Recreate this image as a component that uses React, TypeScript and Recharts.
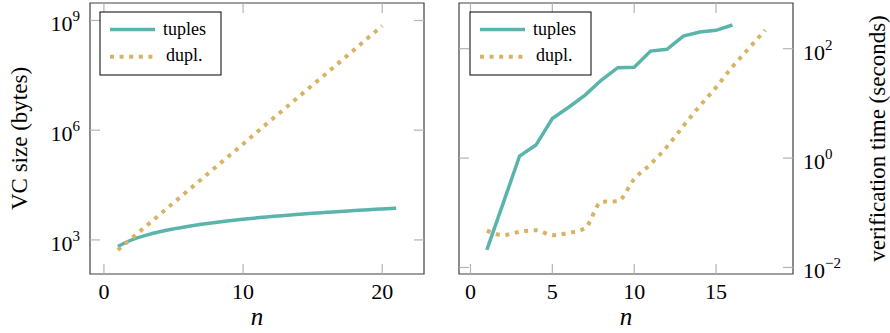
import { Label, Line, LineChart, ReferenceArea, XAxis, YAxis } from "recharts";

const FONT = '"Liberation Serif", "DejaVu Serif", serif';
const TEAL = "#5ab4ac";
const GOLD = "#d8b365";
const BOX = "#404040";
const TICK = "#b3b3b3";
const DOTS = "4 5.6";

// left panel: VC size (bytes)
const nSize = [1, 2, 3, 4, 5, 6, 7, 8, 9, 10, 11, 12, 13, 14, 15, 16, 17, 18, 19, 20, 21];
const tuplesSize = [
  660, 1000, 1330, 1670, 2000, 2340, 2670, 3000, 3340, 3670, 4010, 4340, 4680, 5010, 5350,
  5680, 6020, 6350, 6690, 7020, 7360,
];
const duplSize = [
  530, 1110, 2340, 4900, 10300, 21700, 45500, 95600, 2.0e5, 4.2e5, 8.9e5, 1.87e6, 3.9e6,
  8.2e6, 1.73e7, 3.6e7, 7.6e7, 1.6e8, 3.4e8, 7.1e8,
];
const sizeTicksX = [0, 10, 20];
const sizeTicksY = [1e3, 1e6, 1e9];

// right panel: verification time (seconds)
const nTime = [1, 2, 3, 4, 5, 6, 7, 8, 9, 10, 11, 12, 13, 14, 15, 16, 17, 18];
const tuplesTime = [
  0.021, 0.15, 1.09, 1.73, 5.3, 8.5, 14.2, 26.7, 44.9, 45.6, 90.6, 97.3, 170, 202, 217, 271,
];
const duplTime = [
  0.047, 0.039, 0.045, 0.048, 0.039, 0.043, 0.052, 0.159, 0.163, 0.413, 0.776, 1.61, 3.85,
  8.93, 19.6, 46.8, 101, 219,
];
const timeTicksX = [0, 5, 10, 15];
const timeTicksY = [1e-2, 1, 1e2];

const sizeData = nSize.map((n, i) => ({ n, tuples: tuplesSize[i], dupl: duplSize[i] }));
const timeData = nTime.map((n, i) => ({ n, tuples: tuplesTime[i], dupl: duplTime[i] }));

const PLOT_W = 334;
const PLOT_H = 271;

const expOf = (v: number) => {
  const e = Math.round(Math.log10(v));
  return e < 0 ? `\u2212${-e}` : String(e);
};

function XTick({ x, y, payload }: any) {
  return (
    <g>
      <line x1={x} x2={x} y1={y} y2={y - 10} stroke={TICK} strokeWidth={1.2} />
      <line x1={x} x2={x} y1={y - PLOT_H} y2={y - PLOT_H + 10} stroke={TICK} strokeWidth={1.2} />
      <text x={x} y={y + 24.5} textAnchor="middle" fontFamily={FONT} fontSize={22} fill="#000">
        {payload.value}
      </text>
    </g>
  );
}

function LogTick({ x, y, payload, side }: any) {
  const left = side === "left";
  const dir = left ? 1 : -1;
  return (
    <g>
      <line x1={x} x2={x + dir * 10} y1={y} y2={y} stroke={TICK} strokeWidth={1.2} />
      <line
        x1={x + dir * PLOT_W}
        x2={x + dir * (PLOT_W - 10)}
        y1={y}
        y2={y}
        stroke={TICK}
        strokeWidth={1.2}
      />
      <text
        x={left ? x - 10 : x + 10}
        y={y + 11}
        textAnchor={left ? "end" : "start"}
        fontFamily={FONT}
        fontSize={22}
        fill="#000"
      >
        10
        <tspan fontSize={15} dy={-10}>
          {expOf(payload.value)}
        </tspan>
      </text>
    </g>
  );
}

function AxisTitle({ viewBox, value, dx }: any) {
  const { x, y, height } = viewBox;
  return (
    <text
      x={x + dx}
      y={y + height / 2}
      transform={`rotate(-90 ${x + dx} ${y + height / 2})`}
      textAnchor="middle"
      dominantBaseline="central"
      fontFamily={FONT}
      fontSize={23}
      fill="#000"
    >
      {value}
    </text>
  );
}

function NLabel({ viewBox }: any) {
  const { x, y, width } = viewBox;
  return (
    <text
      x={x + width / 2}
      y={y + 51}
      textAnchor="middle"
      fontFamily={FONT}
      fontSize={25}
      fontStyle="italic"
      fill="#000"
    >
      n
    </text>
  );
}

function LegendBox({ left }: { left: number }) {
  return (
    <svg
      width={124}
      height={66}
      style={{ position: "absolute", left: left - 1, top: 11, overflow: "visible" }}
    >
      <rect x={1} y={1} width={121} height={63} fill="#fff" stroke="#000" strokeWidth={1} />
      <line x1={11} x2={56} y1={18.5} y2={18.5} stroke={TEAL} strokeWidth={3.5} />
      <text x={64} y={23.5} fontFamily={FONT} fontSize={18} fill="#000">
        tuples
      </text>
      <line x1={11} x2={56} y1={45.7} y2={45.7} stroke={GOLD} strokeWidth={4} strokeDasharray={DOTS} />
      <text x={67} y={50} fontFamily={FONT} fontSize={18} fill="#000">
        dupl.
      </text>
    </svg>
  );
}

function SizeChart() {
  return (
    <div style={{ position: "absolute", left: 0, top: 0, width: 440, height: 333 }}>
      <LineChart width={440} height={333} data={sizeData} margin={{ top: 3, right: 16, bottom: 0, left: 0 }}>
        <XAxis
          dataKey="n"
          type="number"
          domain={[-1, 23]}
          ticks={sizeTicksX}
          allowDataOverflow
          interval={0}
          height={59}
          axisLine={false}
          tickLine={false}
          tickSize={0}
          tickMargin={0}
          tick={<XTick />}
        >
          <Label content={<NLabel />} />
        </XAxis>
        <YAxis
          type="number"
          scale="log"
          domain={[117, 3.0e9]}
          ticks={sizeTicksY}
          allowDataOverflow
          interval={0}
          width={90}
          axisLine={false}
          tickLine={false}
          tickSize={0}
          tickMargin={0}
          tick={<LogTick side="left" />}
        >
          <Label content={<AxisTitle value="VC size (bytes)" dx={19} />} />
        </YAxis>
        <ReferenceArea x1={-1} x2={23} y1={117} y2={3.0e9} fill="none" stroke={BOX} strokeWidth={1.2} />
        <Line
          dataKey="tuples"
          type="monotone"
          stroke={TEAL}
          strokeWidth={3.5}
          dot={false}
          isAnimationActive={false}
        />
        <Line
          dataKey="dupl"
          type="linear"
          stroke={GOLD}
          strokeWidth={4}
          strokeDasharray={DOTS}
          dot={false}
          isAnimationActive={false}
        />
      </LineChart>
      <LegendBox left={100} />
    </div>
  );
}

function TimeChart() {
  return (
    <div style={{ position: "absolute", left: 440, top: 0, width: 450, height: 333 }}>
      <LineChart width={450} height={333} data={timeData} margin={{ top: 3, right: 0, bottom: 0, left: 19 }}>
        <XAxis
          dataKey="n"
          type="number"
          domain={[-0.7, 19.7]}
          ticks={timeTicksX}
          allowDataOverflow
          interval={0}
          height={59}
          axisLine={false}
          tickLine={false}
          tickSize={0}
          tickMargin={0}
          tick={<XTick />}
        >
          <Label content={<NLabel />} />
        </XAxis>
        <YAxis
          type="number"
          orientation="right"
          scale="log"
          domain={[0.0076, 685]}
          ticks={timeTicksY}
          allowDataOverflow
          interval={0}
          width={97}
          axisLine={false}
          tickLine={false}
          tickSize={0}
          tickMargin={0}
          tick={<LogTick side="right" />}
        >
          <Label content={<AxisTitle value="verification time (seconds)" dx={84} />} />
        </YAxis>
        <ReferenceArea
          x1={-0.7}
          x2={19.7}
          y1={0.0076}
          y2={685}
          fill="none"
          stroke={BOX}
          strokeWidth={1.2}
        />
        <Line
          dataKey="tuples"
          type="linear"
          stroke={TEAL}
          strokeWidth={3.5}
          dot={false}
          isAnimationActive={false}
        />
        <Line
          dataKey="dupl"
          type="monotone"
          stroke={GOLD}
          strokeWidth={4}
          strokeDasharray={DOTS}
          dot={false}
          isAnimationActive={false}
        />
      </LineChart>
      <LegendBox left={30} />
    </div>
  );
}

export default function App() {
  return (
    <div style={{ position: "absolute", left: 0, top: 0, width: 890, height: 333, background: "#fff" }}>
      <SizeChart />
      <TimeChart />
    </div>
  );
}
